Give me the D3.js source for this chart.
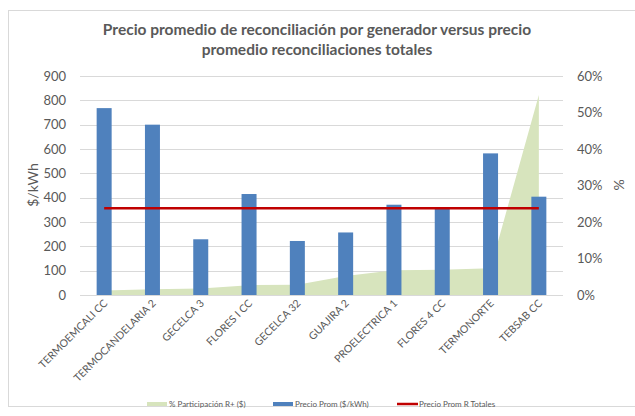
<!DOCTYPE html>
<html><head><meta charset="utf-8">
<script src="https://cdn.jsdelivr.net/npm/d3@7"></script>
<style>body{margin:0;background:#fff}svg{display:block}text{font-family:Lato,"Open Sans",sans-serif;fill:#595959}</style>
</head><body>
<script>
const categories = ["TERMOEMCALI CC","TERMOCANDELARIA 2","GECELCA 3","FLORES I CC","GECELCA 32","GUAJIRA 2","PROELECTRICA 1","FLORES 4 CC","TERMONORTE","TEBSAB CC"];
const precioProm = [768, 700, 229, 415, 222, 257, 371, 360, 582, 404];
const participacion = [0.012, 0.016, 0.018, 0.027, 0.028, 0.052, 0.068, 0.069, 0.073, 0.548];
const precioTotales = [357, 357, 357, 357, 357, 357, 357, 357, 357, 357];
const leftTicks = [0,100,200,300,400,500,600,700,800,900];
const rightTicks = [0,0.1,0.2,0.3,0.4,0.5,0.6];
const legendLabels = ["% Participación R+ ($)","Precio Prom ($/kWh)","Precio Prom R Totales"];

const W=635,H=416;
const svg=d3.select("body").append("svg").attr("width",W).attr("height",H);
svg.append("rect").attr("x",8.5).attr("y",10.5).attr("width",700).attr("height",396).attr("fill","#fff").attr("stroke","#d9d9d9");

const x0=80,x1=563,yTop=76,yBot=295;
const x=d3.scaleBand().domain(categories).range([x0,x1]);
const y=d3.scaleLinear().domain([0,900]).range([yBot,yTop]);
const y2=d3.scaleLinear().domain([0,0.6]).range([yBot,yTop]);
const cx=d=>x(d)+x.bandwidth()/2;

// title
const title=svg.append("text").attr("text-anchor","middle").attr("font-weight","bold").attr("font-size",15.5);
title.append("tspan").attr("x",317).attr("y",35).text("Precio promedio de reconciliación por generador versus precio");
title.append("tspan").attr("x",317).attr("y",55).text("promedio reconciliaciones totales");

// grid
svg.append("g").selectAll("line").data(leftTicks).join("line")
  .attr("x1",x0).attr("x2",x1).attr("y1",d=>Math.round(y(d))+0.5).attr("y2",d=>Math.round(y(d))+0.5)
  .attr("stroke","#d9d9d9").attr("stroke-width",1);

// area
const area=d3.area().x((d,i)=>cx(categories[i])).y0(yBot).y1(d=>y2(d));
svg.append("path").datum(participacion).attr("d",area).attr("fill","#d7e4bd");

// bars
const bw=15;
svg.append("g").selectAll("rect").data(precioProm).join("rect")
  .attr("x",(d,i)=>cx(categories[i])-bw/2).attr("width",bw)
  .attr("y",d=>y(d)).attr("height",d=>yBot-y(d)).attr("fill","#4f81bd");

// line
const line=d3.line().x((d,i)=>cx(categories[i])).y(d=>y(d));
svg.append("path").datum(precioTotales).attr("d",line).attr("fill","none").attr("stroke","#c00000").attr("stroke-width",2.5);

// axes
const la=d3.axisLeft(y).tickValues(leftTicks).tickSize(0).tickPadding(14);
const gl=svg.append("g").attr("transform",`translate(${x0},0)`).call(la);
gl.select(".domain").remove();
gl.selectAll("text").attr("font-size",13).attr("fill","#595959").style("font-family","Lato,sans-serif");
const ra=d3.axisRight(y2).tickValues(rightTicks).tickSize(0).tickPadding(14).tickFormat(d3.format(".0%"));
const gr=svg.append("g").attr("transform",`translate(${x1},0)`).call(ra);
gr.select(".domain").remove();
gr.selectAll("text").attr("font-size",13).attr("fill","#595959").style("font-family","Lato,sans-serif");

// axis titles
svg.append("text").attr("transform","translate(38,185) rotate(-90)").attr("text-anchor","middle").attr("font-size",14).text("$/kWh");
svg.append("text").attr("transform","translate(624,185) rotate(-90)").attr("text-anchor","middle").attr("font-size",14).text("%");

// category labels
svg.append("g").selectAll("text").data(categories).join("text")
  .attr("transform",d=>`translate(${cx(d)+4},${yBot+9}) rotate(-45)`)
  .attr("text-anchor","end").attr("font-size",10.5).text(d=>d);

// legend
const lg=svg.append("g");
const ly=404;
lg.append("rect").attr("x",147).attr("y",ly-2).attr("width",20).attr("height",4).attr("fill","#d7e4bd");
lg.append("text").attr("x",169).attr("y",ly+3).attr("font-size",8).text(legendLabels[0]);
lg.append("rect").attr("x",273).attr("y",ly-2).attr("width",20).attr("height",4).attr("fill","#4f81bd");
lg.append("text").attr("x",295).attr("y",ly+3).attr("font-size",8).text(legendLabels[1]);
lg.append("line").attr("x1",397).attr("x2",418).attr("y1",ly).attr("y2",ly).attr("stroke","#c00000").attr("stroke-width",2.5);
lg.append("text").attr("x",419).attr("y",ly+3).attr("font-size",8).text(legendLabels[2]);
</script>
</body></html>
